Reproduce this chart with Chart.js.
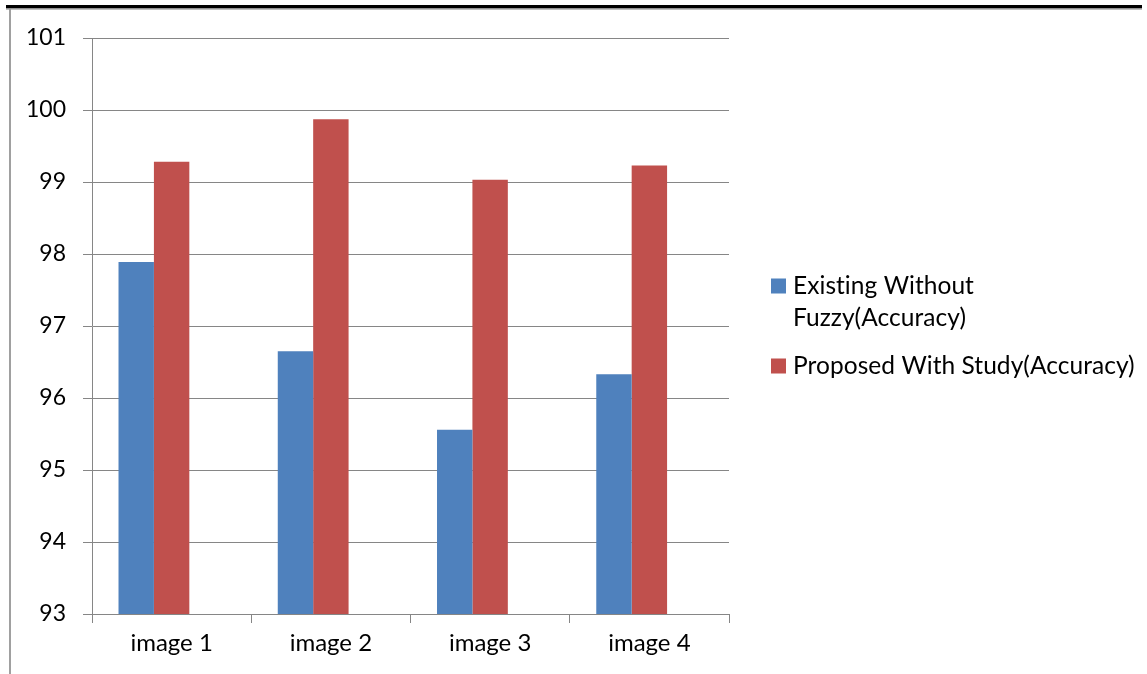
<!DOCTYPE html>
<html>
<head>
<meta charset="utf-8">
<title>Accuracy comparison</title>
<script src="https://cdn.jsdelivr.net/npm/chart.js@4/dist/chart.umd.min.js"></script>
<style>
  html, body { margin: 0; padding: 0; background: #ffffff; }
  canvas { display: block; }
</style>
</head>
<body>
<canvas id="chart" width="1147" height="674"></canvas>
<script>
// Categories and measured accuracy (%) per series
const categories = ['image 1', 'image 2', 'image 3', 'image 4'];
const existingAccuracy = [97.89, 96.65, 95.56, 96.33];
const proposedAccuracy = [99.28, 99.87, 99.03, 99.23];
const seriesNames = [
  ['Existing Without', 'Fuzzy(Accuracy)'],
  ['Proposed With Study(Accuracy)']
];
const seriesColors = ['#4F81BD', '#C0504D'];
const yMin = 93, yMax = 101, yStep = 1;

const FONT = 'Lato';

// Page frame: heavy rule across the top, thin grey rule down the left side
const framePlugin = {
  id: 'frame',
  beforeDraw(chart) {
    const ctx = chart.ctx;
    ctx.save();
    ctx.fillStyle = '#ffffff';
    ctx.fillRect(0, 0, chart.width, chart.height);
    ctx.fillStyle = '#000000';
    ctx.fillRect(6, 5, 1136, 3.5);
    ctx.fillStyle = '#a6a6a6';
    ctx.fillRect(6, 8.5, 1136, 1.2);
    ctx.fillStyle = '#a0a0a0';
    ctx.fillRect(9, 9, 2, chart.height - 9);
    ctx.restore();
  }
};

// Legend to the right of the plot, with wrapped series names
const sideLegend = {
  id: 'sideLegend',
  afterDraw(chart) {
    const ctx = chart.ctx;
    const area = chart.chartArea;
    const lineH = 32, itemGap = 16, box = 15;
    const items = chart.data.datasets.filter(d => Array.isArray(d.label));
    const totalLines = items.reduce((n, d) => n + d.label.length, 0);
    const blockH = (totalLines - 1) * lineH + (items.length - 1) * itemGap + 15;
    let baseline = (area.top + area.bottom) / 2 - blockH / 2 + 15;
    const x0 = area.right + 42;
    ctx.save();
    ctx.font = '24.5px ' + FONT;
    // a hair of tracking keeps the glyphs unligated
    if ('letterSpacing' in ctx) ctx.letterSpacing = '0.05px';
    ctx.textBaseline = 'alphabetic';
    ctx.textAlign = 'left';
    items.forEach(d => {
      ctx.fillStyle = d.backgroundColor;
      ctx.fillRect(x0, baseline - box, box, box);
      ctx.fillStyle = '#000000';
      d.label.forEach((line, i) => {
        ctx.fillText(line, x0 + 22, baseline + i * lineH);
      });
      baseline += (d.label.length - 1) * lineH + lineH + itemGap;
    });
    ctx.restore();
  }
};

new Chart(document.getElementById('chart'), {
  type: 'bar',
  data: {
    labels: categories,
    datasets: [
      { label: seriesNames[0], data: existingAccuracy, backgroundColor: seriesColors[0] },
      { label: seriesNames[1], data: proposedAccuracy, backgroundColor: seriesColors[1] },
      // empty third slot keeps the three-wide cluster spacing
      { label: '', data: [], backgroundColor: 'rgba(0,0,0,0)' }
    ]
  },
  options: {
    responsive: false,
    devicePixelRatio: 1,
    animation: false,
    layout: { padding: { left: 0, top: 38, right: 418, bottom: 0 } },
    datasets: { bar: { categoryPercentage: 0.667, barPercentage: 1.0 } },
    plugins: {
      legend: { display: false },
      tooltip: { enabled: false }
    },
    scales: {
      x: {
        offset: true,
        grid: {
          offset: true,
          drawOnChartArea: false,
          drawTicks: true,
          tickLength: 9,
          color: '#868686',
          lineWidth: 1
        },
        border: { display: true, color: '#868686', width: 1 },
        ticks: {
          color: '#000000',
          font: { family: FONT, size: 24 },
          padding: 6,
          maxRotation: 0
        },
        afterFit(scale) { scale.height = 60; }
      },
      y: {
        min: yMin,
        max: yMax,
        ticks: {
          stepSize: yStep,
          color: '#000000',
          font: { family: FONT, size: 23 },
          padding: 17
        },
        grid: {
          color: '#868686',
          lineWidth: 1,
          tickLength: 9,
          drawTicks: true
        },
        border: { display: true, color: '#868686', width: 1 },
        afterFit(scale) { scale.width = 92; }
      }
    }
  },
  plugins: [framePlugin, sideLegend]
});
</script>
</body>
</html>
